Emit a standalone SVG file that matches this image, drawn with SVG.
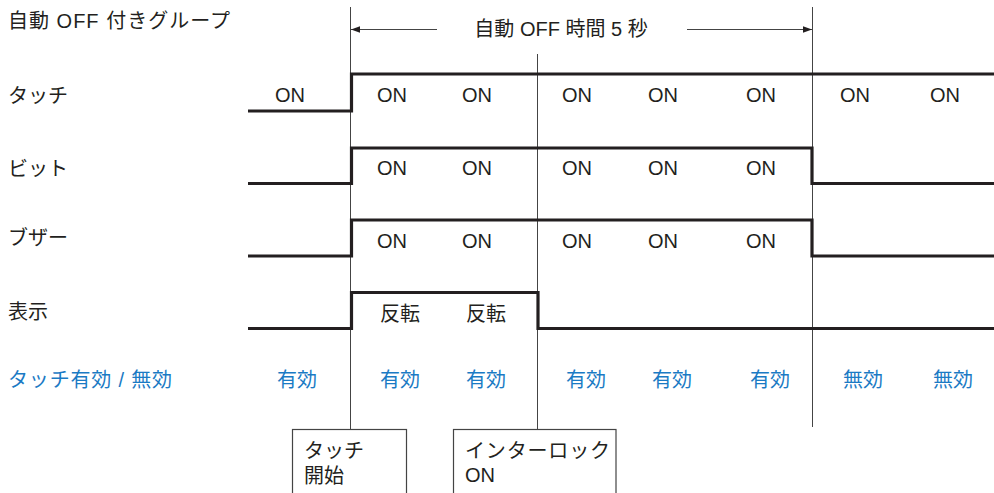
<svg xmlns="http://www.w3.org/2000/svg" width="994" height="493" viewBox="0 0 994 493">
<defs>
<style>
.t{font-family:"Liberation Sans","Noto Sans CJK JP",sans-serif;font-size:20px;fill:#231f20}
.b{fill:#1a7ac4}
.m{text-anchor:middle}
.thin{stroke:#444;stroke-width:1;fill:none}
.sig{stroke:#231f20;stroke-width:3.2;fill:none;stroke-linejoin:miter;stroke-linecap:butt}
.box{stroke:#444;stroke-width:1.2;fill:#fff}
</style>
<marker id="ah" viewBox="0 0 10 10" refX="10" refY="5" markerWidth="9" markerHeight="9" markerUnits="userSpaceOnUse" orient="auto">
<path d="M0,1.5 L10,5 L0,8.5 Z" fill="#231f20"/>
</marker>
</defs>
<rect width="994" height="493" fill="#fff"/>

<g id="labels">
<text class="t" x="8" y="28" textLength="222" lengthAdjust="spacing">自動 OFF 付きグループ</text>
<text class="t" x="8" y="103" textLength="60" lengthAdjust="spacing">タッチ</text>
<text class="t" x="8" y="175.5" textLength="60" lengthAdjust="spacing">ビット</text>
<text class="t" x="8" y="244.5" textLength="60" lengthAdjust="spacing">ブザー</text>
<text class="t" x="8" y="318.5">表示</text>
<text class="t b" x="8" y="387" textLength="164" lengthAdjust="spacing">タッチ有効 / 無効</text>
</g>

<g id="connectors">
<line class="thin" x1="350.5" y1="7" x2="350.5" y2="429"/>
<line class="thin" x1="537.5" y1="54" x2="537.5" y2="429"/>
<line class="thin" x1="812.5" y1="7" x2="812.5" y2="427"/>
<line class="thin" x1="437" y1="29.5" x2="351" y2="29.5" marker-end="url(#ah)"/>
<line class="thin" x1="687" y1="29.5" x2="812" y2="29.5" marker-end="url(#ah)"/>
</g>

<g id="auto-off-time">
<text class="t m" x="561" y="36">自動 OFF 時間 5 秒</text>
</g>

<g id="touch">
<path class="sig" d="M248,111 H351.5 V74 H994"/>
<text class="t m" x="290" y="102">ON</text>
<text class="t m" x="392" y="102">ON</text>
<text class="t m" x="477" y="102">ON</text>
<text class="t m" x="577" y="102">ON</text>
<text class="t m" x="663" y="102">ON</text>
<text class="t m" x="761" y="102">ON</text>
<text class="t m" x="855" y="102">ON</text>
<text class="t m" x="945" y="102">ON</text>
</g>

<g id="bit">
<path class="sig" d="M248,183.5 H351.5 V148 H812 V183.5 H994"/>
<text class="t m" x="392" y="175">ON</text>
<text class="t m" x="477" y="175">ON</text>
<text class="t m" x="577" y="175">ON</text>
<text class="t m" x="663" y="175">ON</text>
<text class="t m" x="761" y="175">ON</text>
</g>

<g id="buzzer">
<path class="sig" d="M248,256 H351.5 V220 H812 V256 H994"/>
<text class="t m" x="392" y="248">ON</text>
<text class="t m" x="477" y="248">ON</text>
<text class="t m" x="577" y="248">ON</text>
<text class="t m" x="663" y="248">ON</text>
<text class="t m" x="761" y="248">ON</text>
</g>

<g id="display">
<path class="sig" d="M248,328.5 H351.5 V292.5 H538 V328.5 H994"/>
<text class="t m" x="400" y="320.5">反転</text>
<text class="t m" x="486" y="320.5">反転</text>
</g>

<g id="touch-enable">
<text class="t b m" x="297" y="387">有効</text>
<text class="t b m" x="400" y="387">有効</text>
<text class="t b m" x="486" y="387">有効</text>
<text class="t b m" x="586" y="387">有効</text>
<text class="t b m" x="672" y="387">有効</text>
<text class="t b m" x="770" y="387">有効</text>
<text class="t b m" x="863" y="387">無効</text>
<text class="t b m" x="953" y="387">無効</text>
</g>

<g id="touch-start">
<rect class="box" x="292.5" y="429.5" width="114" height="80"/>
<text class="t" x="304" y="457.5" textLength="60" lengthAdjust="spacing">タッチ</text>
<text class="t" x="304" y="482.5">開始</text>
</g>

<g id="interlock-on">
<rect class="box" x="453.5" y="429.5" width="162.5" height="80"/>
<text class="t" x="465" y="457.5" textLength="145" lengthAdjust="spacing">インターロック</text>
<text class="t" x="465" y="482">ON</text>
</g>
</svg>
